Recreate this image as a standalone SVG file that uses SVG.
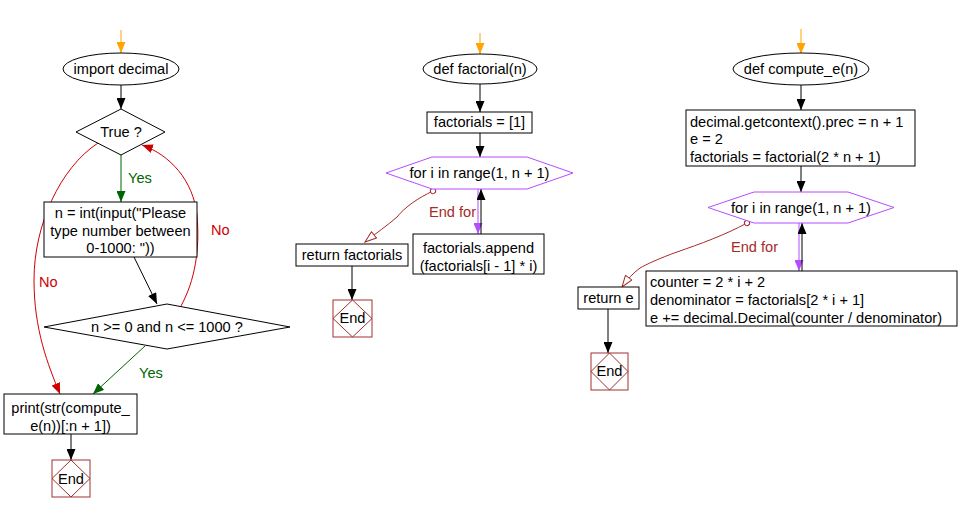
<svg xmlns="http://www.w3.org/2000/svg" width="959" height="513" viewBox="0 0 959 513">
<style>
text{font-family:"Liberation Sans",Arial,sans-serif;font-size:14.6px;fill:#000}
.c{text-anchor:middle}
.box{fill:#fff;stroke:#000;stroke-width:1}
.hex{fill:#fff;stroke:#b44cff;stroke-width:1}
.endb{fill:#fff;stroke:#a03030;stroke-width:1}
.endd{fill:none;stroke:#a03030;stroke-width:1}
.k{stroke:#000;fill:none;stroke-width:1}
.o{stroke:#ffa500;fill:none;stroke-width:1}
.g{stroke:#006400;fill:none;stroke-width:1}
.r{stroke:#d00000;fill:none;stroke-width:1}
.p{stroke:#b44cff;fill:none;stroke-width:1}
.b{stroke:#a52a2a;fill:none;stroke-width:1}
.gt{fill:#006400}
.rt{fill:#d00000}
.bt{fill:#a52a2a}
</style>
<defs>
<marker id="ak" markerUnits="userSpaceOnUse" markerWidth="12" markerHeight="9" refX="11" refY="4.5" orient="auto"><path d="M0,0 L11,4.5 L0,9 z" fill="#000"/></marker>
<marker id="ao" markerUnits="userSpaceOnUse" markerWidth="12" markerHeight="9" refX="11" refY="4.5" orient="auto"><path d="M0,0 L11,4.5 L0,9 z" fill="#ffa500"/></marker>
<marker id="ag" markerUnits="userSpaceOnUse" markerWidth="12" markerHeight="9" refX="11" refY="4.5" orient="auto"><path d="M0,0 L11,4.5 L0,9 z" fill="#006400"/></marker>
<marker id="ar" markerUnits="userSpaceOnUse" markerWidth="12" markerHeight="9" refX="11" refY="4.5" orient="auto"><path d="M0,0 L11,4.5 L0,9 z" fill="#d00000"/></marker>
<marker id="ap" markerUnits="userSpaceOnUse" markerWidth="12" markerHeight="9" refX="11" refY="4.5" orient="auto"><path d="M0,0 L11,4.5 L0,9 z" fill="#b44cff"/></marker>
<marker id="ab" markerUnits="userSpaceOnUse" markerWidth="13" markerHeight="9" refX="12" refY="4.5" orient="auto"><path d="M0.5,0.5 L12,4.5 L0.5,8.5 z" fill="#fff" stroke="#a52a2a" stroke-width="1"/></marker>
<marker id="cb" markerUnits="userSpaceOnUse" markerWidth="7" markerHeight="7" refX="3.5" refY="3.5" orient="auto"><circle cx="3.5" cy="3.5" r="2.6" fill="#fff" stroke="#a52a2a" stroke-width="1"/></marker>
</defs>

<g id="connectors">
<path class="o" d="M121,30 L121,53" marker-end="url(#ao)"/>
<path class="k" d="M121,85 L121,109" marker-end="url(#ak)"/>
<path class="g" d="M121,155 L121,202" marker-end="url(#ag)"/>
<path class="k" d="M134,257 L157,304" marker-end="url(#ak)"/>
<path class="r" d="M181,306 C195,280 200,250 197,215 C193,180 170,155 142,145" marker-end="url(#ar)"/>
<path class="r" d="M98,143 C60,168 34,225 34,280 C34,330 48,365 60,394" marker-end="url(#ar)"/>
<path class="g" d="M145,346 L93,394" marker-end="url(#ag)"/>
<path class="k" d="M71,434 L71,460" marker-end="url(#ak)"/>
<path class="o" d="M480,33 L480,54" marker-end="url(#ao)"/>
<path class="k" d="M480,84 L480,112" marker-end="url(#ak)"/>
<path class="k" d="M480,133 L480,157" marker-end="url(#ak)"/>
<path class="p" d="M478,189 L478,234" marker-end="url(#ap)"/>
<path class="k" d="M481,234 L481,189" marker-end="url(#ak)"/>
<path class="b" d="M433,191 C418,198 405,207 397,217 C388,225 375,234 365,242" marker-start="url(#cb)" marker-end="url(#ab)"/>
<path class="k" d="M352,266 L352,300" marker-end="url(#ak)"/>
<path class="o" d="M801,29 L801,54" marker-end="url(#ao)"/>
<path class="k" d="M801,85 L801,110" marker-end="url(#ak)"/>
<path class="k" d="M801,166 L801,192" marker-end="url(#ak)"/>
<path class="p" d="M799,223 L799,271" marker-end="url(#ap)"/>
<path class="k" d="M802,271 L802,223" marker-end="url(#ak)"/>
<path class="b" d="M747,223 C725,235 700,244 677,252 C660,258 645,265 640,268 C633,273 627,280 622,287" marker-start="url(#cb)" marker-end="url(#ab)"/>
<path class="k" d="M608,309 L608,353" marker-end="url(#ak)"/>
</g>

<g id="labels">
<text class="gt" x="128" y="183">Yes</text>
<text class="rt" x="211" y="235">No</text>
<text class="rt" x="39" y="287">No</text>
<text class="gt" x="139" y="378">Yes</text>
<text class="bt" x="429" y="217">End for</text>
<text class="bt" x="731" y="252">End for</text>
</g>

<g id="import_decimal"><ellipse class="box" cx="121" cy="69" rx="58" ry="16"/><text class="c" x="121" y="74">import decimal</text></g>
<g id="true_q"><polygon class="box" points="121,109 165,132 121,155 76,132"/><text class="c" x="121" y="137">True ?</text></g>
<g id="input_n"><rect class="box" x="44" y="202" width="153" height="55"/><text class="c" x="120.5" y="218">n = int(input("Please</text><text class="c" x="120.5" y="236">type number between</text><text class="c" x="120.5" y="253">0-1000: "))</text></g>
<g id="range_q"><polygon class="box" points="167,304 290,327 167,349 44,327"/><text class="c" x="167" y="332">n &gt;= 0 and n &lt;= 1000 ?</text></g>
<g id="print_box"><rect class="box" x="4" y="394" width="133" height="40"/><text class="c" x="70.5" y="413">print(str(compute_</text><text class="c" x="70.5" y="431">e(n))[:n + 1])</text></g>
<g id="end1"><rect class="endb" x="52" y="460" width="38" height="37"/><polygon class="endd" points="71,460 90,478.5 71,497 52,478.5"/><text class="c" x="71" y="484">End</text></g>

<g id="def_factorial"><ellipse class="box" cx="480" cy="69" rx="57" ry="15"/><text class="c" x="480" y="74">def factorial(n)</text></g>
<g id="factorials_init"><rect class="box" x="427" y="112" width="105" height="21"/><text class="c" x="479.5" y="127">factorials = [1]</text></g>
<g id="for1"><polygon class="hex" points="386,173 432,157 527,157 573,173 527,189 432,189"/><text class="c" x="479.5" y="178">for i in range(1, n + 1)</text></g>
<g id="append_box"><rect class="box" x="413" y="234" width="131" height="40"/><text class="c" x="478.5" y="253">factorials.append</text><text class="c" x="478.5" y="271">(factorials[i - 1] * i)</text></g>
<g id="return_factorials"><rect class="box" x="296" y="244" width="112" height="22"/><text class="c" x="352" y="260">return factorials</text></g>
<g id="end2"><rect class="endb" x="333" y="300" width="39" height="37"/><polygon class="endd" points="352.5,300 372,318.5 352.5,337 333,318.5"/><text class="c" x="352.5" y="323">End</text></g>

<g id="def_compute_e"><ellipse class="box" cx="801" cy="69" rx="68" ry="16"/><text class="c" x="801" y="74">def compute_e(n)</text></g>
<g id="init_box"><rect class="box" x="686" y="110" width="229" height="56"/><text x="690" y="127">decimal.getcontext().prec = n + 1</text><text x="690" y="144">e = 2</text><text x="690" y="162">factorials = factorial(2 * n + 1)</text></g>
<g id="for2"><polygon class="hex" points="708,207.5 754,192 848,192 894,207.5 848,223 754,223"/><text class="c" x="801" y="213">for i in range(1, n + 1)</text></g>
<g id="loop_body"><rect class="box" x="646" y="271" width="311" height="55"/><text x="650" y="287">counter = 2 * i + 2</text><text x="650" y="305">denominator = factorials[2 * i + 1]</text><text x="650" y="323">e += decimal.Decimal(counter / denominator)</text></g>
<g id="return_e"><rect class="box" x="578" y="287" width="61" height="22"/><text class="c" x="608.5" y="303">return e</text></g>
<g id="end3"><rect class="endb" x="591" y="353" width="37" height="37"/><polygon class="endd" points="609.5,353 628,371.5 609.5,390 591,371.5"/><text class="c" x="609.5" y="376">End</text></g>
</svg>
